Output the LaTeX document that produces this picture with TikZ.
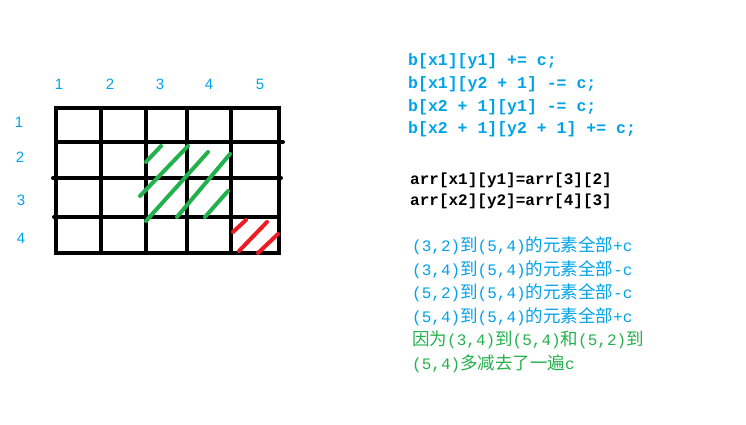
\documentclass[tikz,border=0pt]{standalone}
\usepackage{fontspec}
\usetikzlibrary{positioning}
\newfontfamily\codefont{Liberation Mono}
\newfontfamily\labfont{Liberation Sans}
\newfontfamily\cjk{Noto Sans CJK SC}
\definecolor{pblue}{HTML}{00A2E8}
\definecolor{pgreen}{HTML}{22B14C}
\definecolor{pred}{HTML}{ED1C24}
\newcommand\zh[1]{{\cjk\mdseries\fontsize{17.5}{17.5}\selectfont #1}}

\begin{document}
\begin{tikzpicture}[x=1pt, y=-1pt,
  idx/.style={text=pblue, font=\labfont\fontsize{15}{15}\selectfont, inner sep=0pt},
  code/.style={anchor=west, inner sep=0pt, font=\codefont\bfseries\fontsize{16.5}{16.5}\selectfont},
  note/.style={anchor=west, inner sep=0pt, font=\codefont\fontsize{16}{16}\selectfont},
  gridline/.style={line width=4pt, line cap=round},
  hatch/.style={line width=4pt, line cap=round}]
  \useasboundingbox (0,0) rectangle (746,425);

  % column and row numbers
  \node[idx] (c1) at (59, 84) {1};
  \node[idx] (c2) at (110, 84) {2};
  \node[idx] (c3) at (160, 84) {3};
  \node[idx] (c4) at (209, 84) {4};
  \node[idx] (c5) at (260, 84) {5};
  \node[idx] (r1) at (19, 122) {1};
  \node[idx] (r2) at (20, 157) {2};
  \node[idx] (r3) at (21, 200) {3};
  \node[idx] (r4) at (21, 238) {4};

  % the grid
  \draw[gridline] (56, 108) rectangle (279, 253);
  \foreach \x in {101, 146, 187, 231}
    \draw[gridline] (\x, 108) -- (\x, 253);
  \draw[gridline] (56, 142) -- (283, 142);
  \draw[gridline] (53, 178) -- (281, 178);
  \draw[gridline] (54, 217) -- (279, 217);

  % hatching
  \draw[hatch, pgreen] (146, 162) -- (161, 146);
  \draw[hatch, pgreen] (140, 196) -- (188, 146);
  \draw[hatch, pgreen] (146, 221) -- (208, 152);
  \draw[hatch, pgreen] (177, 217) -- (230, 154);
  \draw[hatch, pgreen] (205, 217) -- (228, 191);
  \draw[hatch, pred] (233, 232) -- (246, 220);
  \draw[hatch, pred] (239, 251) -- (267, 222);
  \draw[hatch, pred] (258, 253) -- (278, 234);

  % code on the right
  \node[code, text=pblue] (b1) at (408, 61) {b[x1][y1] += c;};
  \node[code, text=pblue] (b2) at (408, 84) {b[x1][y2 + 1] -= c;};
  \node[code, text=pblue] (b3) at (408, 107) {b[x2 + 1][y1] -= c;};
  \node[code, text=pblue] (b4) at (408, 129) {b[x2 + 1][y2 + 1] += c;};

  \node[code, font=\codefont\bfseries\fontsize{16}{16}\selectfont] (a1) at (410, 180) {arr[x1][y1]=arr[3][2]};
  \node[code, font=\codefont\bfseries\fontsize{16}{16}\selectfont] (a2) at (410, 201) {arr[x2][y2]=arr[4][3]};

  \node[note, text=pblue] (n1) at (412, 246) {(3,2)\zh{到}(5,4)\zh{的元素全部}+c};
  \node[note, text=pblue] (n2) at (412, 270) {(3,4)\zh{到}(5,4)\zh{的元素全部}-c};
  \node[note, text=pblue] (n3) at (412, 293) {(5,2)\zh{到}(5,4)\zh{的元素全部}-c};
  \node[note, text=pblue] (n4) at (412, 317) {(5,4)\zh{到}(5,4)\zh{的元素全部}+c};
  \node[note, text=pgreen] (n5) at (412, 340) {\zh{因为}(3,4)\zh{到}(5,4)\zh{和}(5,2)\zh{到}};
  \node[note, text=pgreen] (n6) at (412, 364) {(5,4)\zh{多减去了一遍}c};
\end{tikzpicture}
\end{document}
